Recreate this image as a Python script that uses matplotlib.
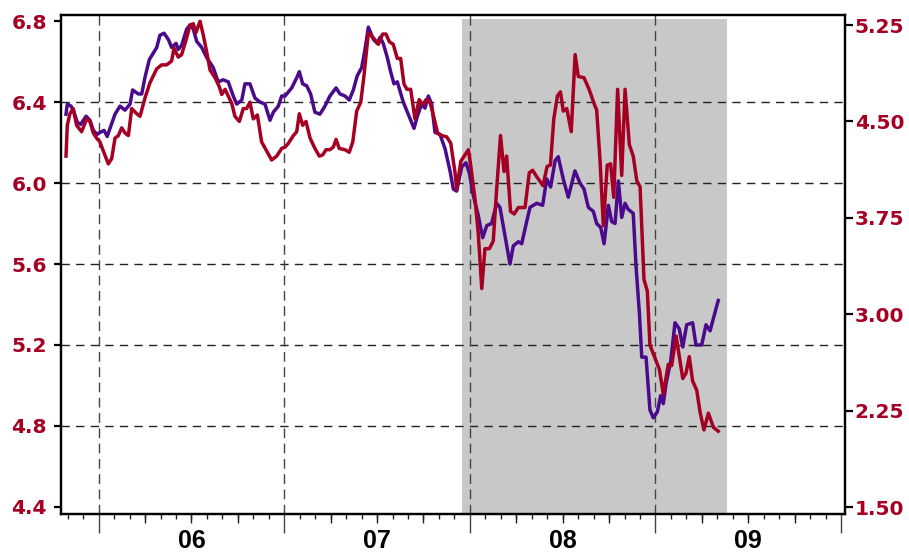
import matplotlib
matplotlib.use("Agg")
import matplotlib.pyplot as plt
from matplotlib.ticker import FixedLocator

# left-axis series (purple), dates as decimal years
a_year = [2005.824, 2005.831, 2005.851, 2005.863, 2005.885, 2005.903, 2005.932, 2005.953, 2005.971, 2005.992,
          2006.007, 2006.029, 2006.046, 2006.061, 2006.088, 2006.115, 2006.142, 2006.169, 2006.183, 2006.213,
          2006.232, 2006.249, 2006.273, 2006.313, 2006.330, 2006.352, 2006.375, 2006.393, 2006.417, 2006.429,
          2006.447, 2006.474, 2006.492, 2006.510, 2006.528, 2006.555, 2006.582, 2006.617, 2006.644, 2006.671,
          2006.698, 2006.725, 2006.744, 2006.771, 2006.788, 2006.815, 2006.842, 2006.869, 2006.896, 2006.923,
          2006.941, 2006.968, 2006.986, 2007.004, 2007.040, 2007.067, 2007.081, 2007.099, 2007.121, 2007.142,
          2007.165, 2007.192, 2007.219, 2007.246, 2007.279, 2007.300, 2007.327, 2007.350, 2007.372, 2007.393,
          2007.417, 2007.435, 2007.453, 2007.480, 2007.501, 2007.516, 2007.533, 2007.555, 2007.573, 2007.591,
          2007.609, 2007.641, 2007.668, 2007.699, 2007.717, 2007.740, 2007.758, 2007.776, 2007.794, 2007.812,
          2007.839, 2007.866, 2007.893, 2007.911, 2007.929, 2007.956, 2007.979, 2007.997, 2008.018, 2008.045,
          2008.069, 2008.091, 2008.117, 2008.144, 2008.162, 2008.189, 2008.216, 2008.234, 2008.261, 2008.279,
          2008.306, 2008.324, 2008.360, 2008.392, 2008.414, 2008.435, 2008.459, 2008.476, 2008.503, 2008.530,
          2008.566, 2008.593, 2008.615, 2008.638, 2008.665, 2008.683, 2008.705, 2008.723, 2008.746, 2008.764,
          2008.782, 2008.800, 2008.818, 2008.836, 2008.853, 2008.880, 2008.895, 2008.913, 2008.926, 2008.949,
          2008.970, 2008.988, 2009.010, 2009.028, 2009.042, 2009.057, 2009.082, 2009.105, 2009.128, 2009.147,
          2009.168, 2009.200, 2009.218, 2009.249, 2009.272, 2009.294, 2009.338]
a_val = [6.34, 6.39, 6.38, 6.36, 6.30, 6.29, 6.33, 6.31, 6.26, 6.24,
         6.25, 6.26, 6.23, 6.27, 6.34, 6.38, 6.36, 6.39, 6.46, 6.44,
         6.44, 6.52, 6.61, 6.67, 6.73, 6.74, 6.71, 6.67, 6.69, 6.66,
         6.68, 6.76, 6.78, 6.76, 6.70, 6.67, 6.62, 6.57, 6.50, 6.51,
         6.50, 6.43, 6.39, 6.41, 6.49, 6.49, 6.42, 6.40, 6.39, 6.31,
         6.35, 6.38, 6.43, 6.43, 6.47, 6.52, 6.55, 6.49, 6.48, 6.44,
         6.35, 6.34, 6.38, 6.43, 6.47, 6.44, 6.43, 6.41, 6.46, 6.53,
         6.57, 6.66, 6.77, 6.71, 6.69, 6.72, 6.69, 6.62, 6.55, 6.49,
         6.50, 6.40, 6.34, 6.27, 6.33, 6.39, 6.37, 6.43, 6.39, 6.25,
         6.24, 6.17, 6.06, 5.97, 5.96, 6.08, 6.10, 6.05, 5.94, 5.84,
         5.73, 5.79, 5.80, 5.90, 5.88, 5.74, 5.60, 5.69, 5.71, 5.70,
         5.81, 5.88, 5.90, 5.89, 6.02, 5.98, 6.11, 6.13, 6.02, 5.93,
         6.06, 6.00, 5.97, 5.88, 5.86, 5.80, 5.78, 5.70, 5.89, 5.81,
         5.80, 6.01, 5.83, 5.90, 5.87, 5.85, 5.59, 5.36, 5.14, 5.14,
         4.88, 4.84, 4.87, 4.95, 4.91, 5.01, 5.12, 5.31, 5.28, 5.19,
         5.30, 5.31, 5.20, 5.20, 5.30, 5.27, 5.42]

# right-axis series (red)
b_year = [2005.824, 2005.831, 2005.845, 2005.863, 2005.881, 2005.908, 2005.935, 2005.953, 2005.971, 2005.989,
          2006.007, 2006.025, 2006.052, 2006.070, 2006.088, 2006.106, 2006.124, 2006.142, 2006.160, 2006.178,
          2006.205, 2006.223, 2006.249, 2006.276, 2006.313, 2006.339, 2006.366, 2006.393, 2006.406, 2006.429,
          2006.447, 2006.474, 2006.492, 2006.510, 2006.524, 2006.546, 2006.564, 2006.582, 2006.600, 2006.627,
          2006.650, 2006.663, 2006.681, 2006.717, 2006.734, 2006.758, 2006.779, 2006.797, 2006.815, 2006.833,
          2006.855, 2006.878, 2006.905, 2006.932, 2006.959, 2006.986, 2007.004, 2007.022, 2007.049, 2007.067,
          2007.081, 2007.099, 2007.117, 2007.139, 2007.165, 2007.189, 2007.207, 2007.225, 2007.246, 2007.264,
          2007.279, 2007.296, 2007.327, 2007.350, 2007.369, 2007.390, 2007.412, 2007.429, 2007.453, 2007.480,
          2007.507, 2007.530, 2007.548, 2007.566, 2007.587, 2007.609, 2007.627, 2007.645, 2007.661, 2007.681,
          2007.704, 2007.727, 2007.746, 2007.764, 2007.785, 2007.803, 2007.826, 2007.848, 2007.875, 2007.897,
          2007.920, 2007.929, 2007.951, 2007.974, 2007.992, 2008.006, 2008.028, 2008.045, 2008.064, 2008.081,
          2008.105, 2008.126, 2008.144, 2008.165, 2008.184, 2008.198, 2008.219, 2008.239, 2008.261, 2008.297,
          2008.320, 2008.338, 2008.360, 2008.394, 2008.416, 2008.434, 2008.452, 2008.472, 2008.488, 2008.503,
          2008.522, 2008.546, 2008.567, 2008.584, 2008.615, 2008.642, 2008.674, 2008.683, 2008.701, 2008.719,
          2008.740, 2008.758, 2008.775, 2008.796, 2008.818, 2008.836, 2008.859, 2008.880, 2008.899, 2008.917,
          2008.938, 2008.956, 2008.970, 2008.997, 2009.021, 2009.042, 2009.069, 2009.087, 2009.111, 2009.147,
          2009.164, 2009.182, 2009.200, 2009.222, 2009.240, 2009.261, 2009.285, 2009.312, 2009.338]
b_val = [4.23, 4.47, 4.56, 4.60, 4.47, 4.42, 4.52, 4.50, 4.41, 4.37,
         4.34, 4.27, 4.17, 4.21, 4.37, 4.39, 4.45, 4.41, 4.39, 4.60,
         4.56, 4.54, 4.68, 4.80, 4.91, 4.94, 4.94, 4.97, 5.07, 5.00,
         5.02, 5.15, 5.25, 5.26, 5.19, 5.28, 5.17, 5.04, 4.90, 4.84,
         4.77, 4.71, 4.75, 4.64, 4.54, 4.50, 4.60, 4.60, 4.65, 4.52,
         4.55, 4.34, 4.27, 4.20, 4.23, 4.29, 4.30, 4.33, 4.39, 4.42,
         4.56, 4.47, 4.50, 4.37, 4.29, 4.23, 4.24, 4.28, 4.28, 4.30,
         4.36, 4.29, 4.28, 4.26, 4.34, 4.58, 4.65, 4.85, 5.19, 5.15,
         5.10, 5.18, 5.18, 5.12, 5.10, 4.99, 4.99, 4.79, 4.75, 4.75,
         4.52, 4.67, 4.63, 4.67, 4.65, 4.55, 4.41, 4.39, 4.38, 4.33,
         4.10, 3.97, 4.19, 4.24, 4.28, 4.14, 3.89, 3.63, 3.20, 3.51,
         3.51, 3.57, 3.97, 4.39, 4.11, 4.23, 3.80, 3.78, 3.83, 3.83,
         4.10, 4.12, 4.07, 4.00, 4.15, 4.16, 4.52, 4.70, 4.73, 4.58,
         4.60, 4.42, 5.02, 4.85, 4.84, 4.75, 4.62, 4.59, 4.20, 3.69,
         4.16, 4.17, 3.91, 4.75, 4.08, 4.75, 4.32, 4.23, 4.04, 3.99,
         3.27, 3.18, 2.76, 2.66, 2.57, 2.38, 2.61, 2.60, 2.83, 2.50,
         2.54, 2.67, 2.48, 2.41, 2.24, 2.10, 2.23, 2.12, 2.09]

years = [2006, 2007, 2008, 2009]
year_labels = ["06", "07", "08", "09"]
left_ticks = [4.4, 4.8, 5.2, 5.6, 6.0, 6.4, 6.8]
right_ticks = [1.50, 2.25, 3.00, 3.75, 4.50, 5.25]
shade_start, shade_end = 2007.959, 2009.385

RED = "#a50024"
PURPLE = "#4b0a8c"

plt.rcParams["font.family"] = ["Liberation Sans", "DejaVu Sans"]

fig = plt.figure(figsize=(9.09, 5.52), dpi=100)
ax = fig.add_axes([0.0671, 0.0688, 0.8625, 0.904])
ax.set_xlim(2005.797, 2010.021)
ax.set_ylim(4.365, 6.830)
ax2 = ax.twinx()
ax2.set_ylim(1.4455, 5.328)

# shaded period and dashed grid
ax.axvspan(shade_start, shade_end, ymin=0, ymax=0.992, color="#c8c8c8", lw=0, zorder=0)
for v in left_ticks[1:-1]:
    ax.axhline(v, color="#222222", lw=1, dashes=(6, 4.5), zorder=1)
for yr in years:
    ax.axvline(yr, color="#444444", lw=1, dashes=(7, 4), zorder=1)

ax.plot(a_year, a_val, color=PURPLE, lw=2.5, zorder=3)
ax2.plot(b_year, b_val, color=RED, lw=2.5)

for a in (ax, ax2):
    for s in a.spines.values():
        s.set_linewidth(1.6)

# x ticks: years (long), quarters (medium), months (short)
ax.xaxis.set_major_locator(FixedLocator(years + [2010]))
ax.xaxis.set_minor_locator(FixedLocator([2005 + k / 12 for k in range(10, 61)]))
ax.tick_params(axis="x", which="major", length=13.5, width=1, color="#444444", labelbottom=False)
ax.tick_params(axis="x", which="minor", length=3.6, width=1, color="#222222")

quarters = ax.secondary_xaxis("bottom")
quarters.set_xticks([yr + q / 4 for yr in [2005] + years for q in (1, 2, 3)])
quarters.tick_params(length=6.5, width=1, color="#222222", labelbottom=False)
quarters.spines["bottom"].set_visible(False)

labels = ax.secondary_xaxis("bottom")
labels.set_xticks([yr + 0.5 for yr in years], year_labels)
labels.tick_params(length=0, pad=10.5)
labels.spines["bottom"].set_visible(False)
for t in labels.get_xticklabels():
    t.set_fontsize(18)
    t.set_fontweight("bold")

ax.set_yticks(left_ticks, [f"{v:.1f}" for v in left_ticks])
ax.tick_params(axis="y", length=5, width=1.6, pad=5)
ax2.set_yticks(right_ticks, [f"{v:.2f}" for v in right_ticks])
ax2.tick_params(axis="y", length=6, width=1.6, pad=1)
for t in ax.get_yticklabels() + ax2.get_yticklabels():
    t.set_family("DejaVu Sans")
    t.set_fontsize(14.5)
    t.set_fontweight("bold")
    t.set_color(RED)

fig.savefig("out.png", dpi=100)
